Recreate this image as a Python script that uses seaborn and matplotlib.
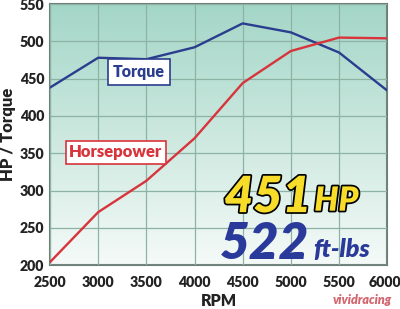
import numpy as np
import pandas as pd
import matplotlib
matplotlib.use("Agg")
import matplotlib.pyplot as plt
import matplotlib.patheffects as pe
import matplotlib.transforms as mtransforms
import seaborn as sns

rpm = [2500, 3000, 3500, 4000, 4500, 5000, 5500, 6000]
torque = [438, 478, 476, 492, 524, 512, 485, 434]
horsepower = [204, 271, 313, 370, 444, 487, 505, 504]
x_ticks = [2500, 3000, 3500, 4000, 4500, 5000, 5500, 6000]
y_ticks = [200, 250, 300, 350, 400, 450, 500, 550]

df = pd.DataFrame({"RPM": rpm * 2,
                   "value": torque + horsepower,
                   "series": ["Torque"] * len(rpm) + ["Horsepower"] * len(rpm)})

sns.set_style("white")
FONT = ["Lato", "DejaVu Sans"]
plt.rcParams["font.family"] = FONT

fig = plt.figure(figsize=(4.0, 3.09), dpi=100)
ax = fig.add_axes([0.125, 0.142, 0.843, 0.845])

# gradient background
top = np.array([0.64, 0.84, 0.78])
bot = np.array([0.96, 0.98, 0.97])
t = np.linspace(0, 1, 256)[:, None]
grad = top[None, :] * (1 - t) + bot[None, :] * t
grad = np.repeat(grad[:, None, :], 2, axis=1)
ax.imshow(grad, extent=[2500, 6000, 200, 550], origin="upper", aspect="auto", zorder=0)

sns.lineplot(data=df, x="RPM", y="value", hue="series",
             palette={"Torque": "#2a3d8f", "Horsepower": "#d8343c"},
             linewidth=1.7, ax=ax, legend=False, zorder=3)

ax.set_xlim(2500, 6000)
ax.set_ylim(200, 550)
ax.set_xticks(x_ticks)
ax.set_yticks(y_ticks)
ax.grid(True, color="#8db3a5", linewidth=0.9, zorder=1)
ax.set_axisbelow(False)
for s in ax.spines.values():
    s.set_color("#6e7f78")
    s.set_linewidth(1.5)
ax.tick_params(length=0, labelsize=10.2)
ax.tick_params(axis="x", pad=8)
ax.tick_params(axis="y", pad=4)
for lab in ax.get_xticklabels() + ax.get_yticklabels():
    lab.set_fontweight("heavy")
    lab.set_color("#222222")
last = ax.get_xticklabels()[-1]
last.set_horizontalalignment("right")
last.set_transform(last.get_transform() +
                   mtransforms.ScaledTranslation(14 / 100, 0, fig.dpi_scale_trans))
ax.set_xlabel("RPM", fontsize=11.5, fontweight="heavy", labelpad=3, color="#222222")
ax.set_ylabel("HP / Torque", fontsize=12, fontweight="heavy", labelpad=3, color="#222222")

ax.text(3421, 459, "Torque", color="#2a3d8f", fontsize=11.5, fontweight="heavy",
        ha="center", va="center", zorder=5,
        bbox=dict(boxstyle="square,pad=0.3", fc="white", ec="#2a3d8f", lw=1.2))
ax.text(3183, 351, "Horsepower", color="#d8343c", fontsize=12, fontweight="heavy",
        ha="center", va="center", zorder=5,
        bbox=dict(boxstyle="square,pad=0.22", fc="white", ec="#d8343c", lw=1.2))

outline = [pe.withStroke(linewidth=2.5, foreground="black")]
ax.text(5213, 271, "451", color="#f7dc2a", fontsize=36, fontweight="heavy", style="italic",
        ha="right", va="baseline", zorder=6, path_effects=outline)
ax.text(5244, 273, "HP", color="#f7dc2a", fontsize=24, fontweight="heavy", style="italic",
        ha="left", va="baseline", zorder=6, path_effects=outline)
ax.text(5192, 208, "522", color="#2a3a9a", fontsize=37, fontweight="heavy", style="italic",
        ha="right", va="baseline", zorder=6)
ax.text(5234, 211, "ft-lbs", color="#2a3a9a", fontsize=18, fontweight="heavy", style="italic",
        ha="left", va="baseline", zorder=6)

fig.text(0.905, 0.028, "vividracing", color="#c8404a", fontsize=9, fontweight="heavy",
         style="italic", ha="center", va="center", alpha=0.8)

fig.savefig("out.png", dpi=100, facecolor="white")
